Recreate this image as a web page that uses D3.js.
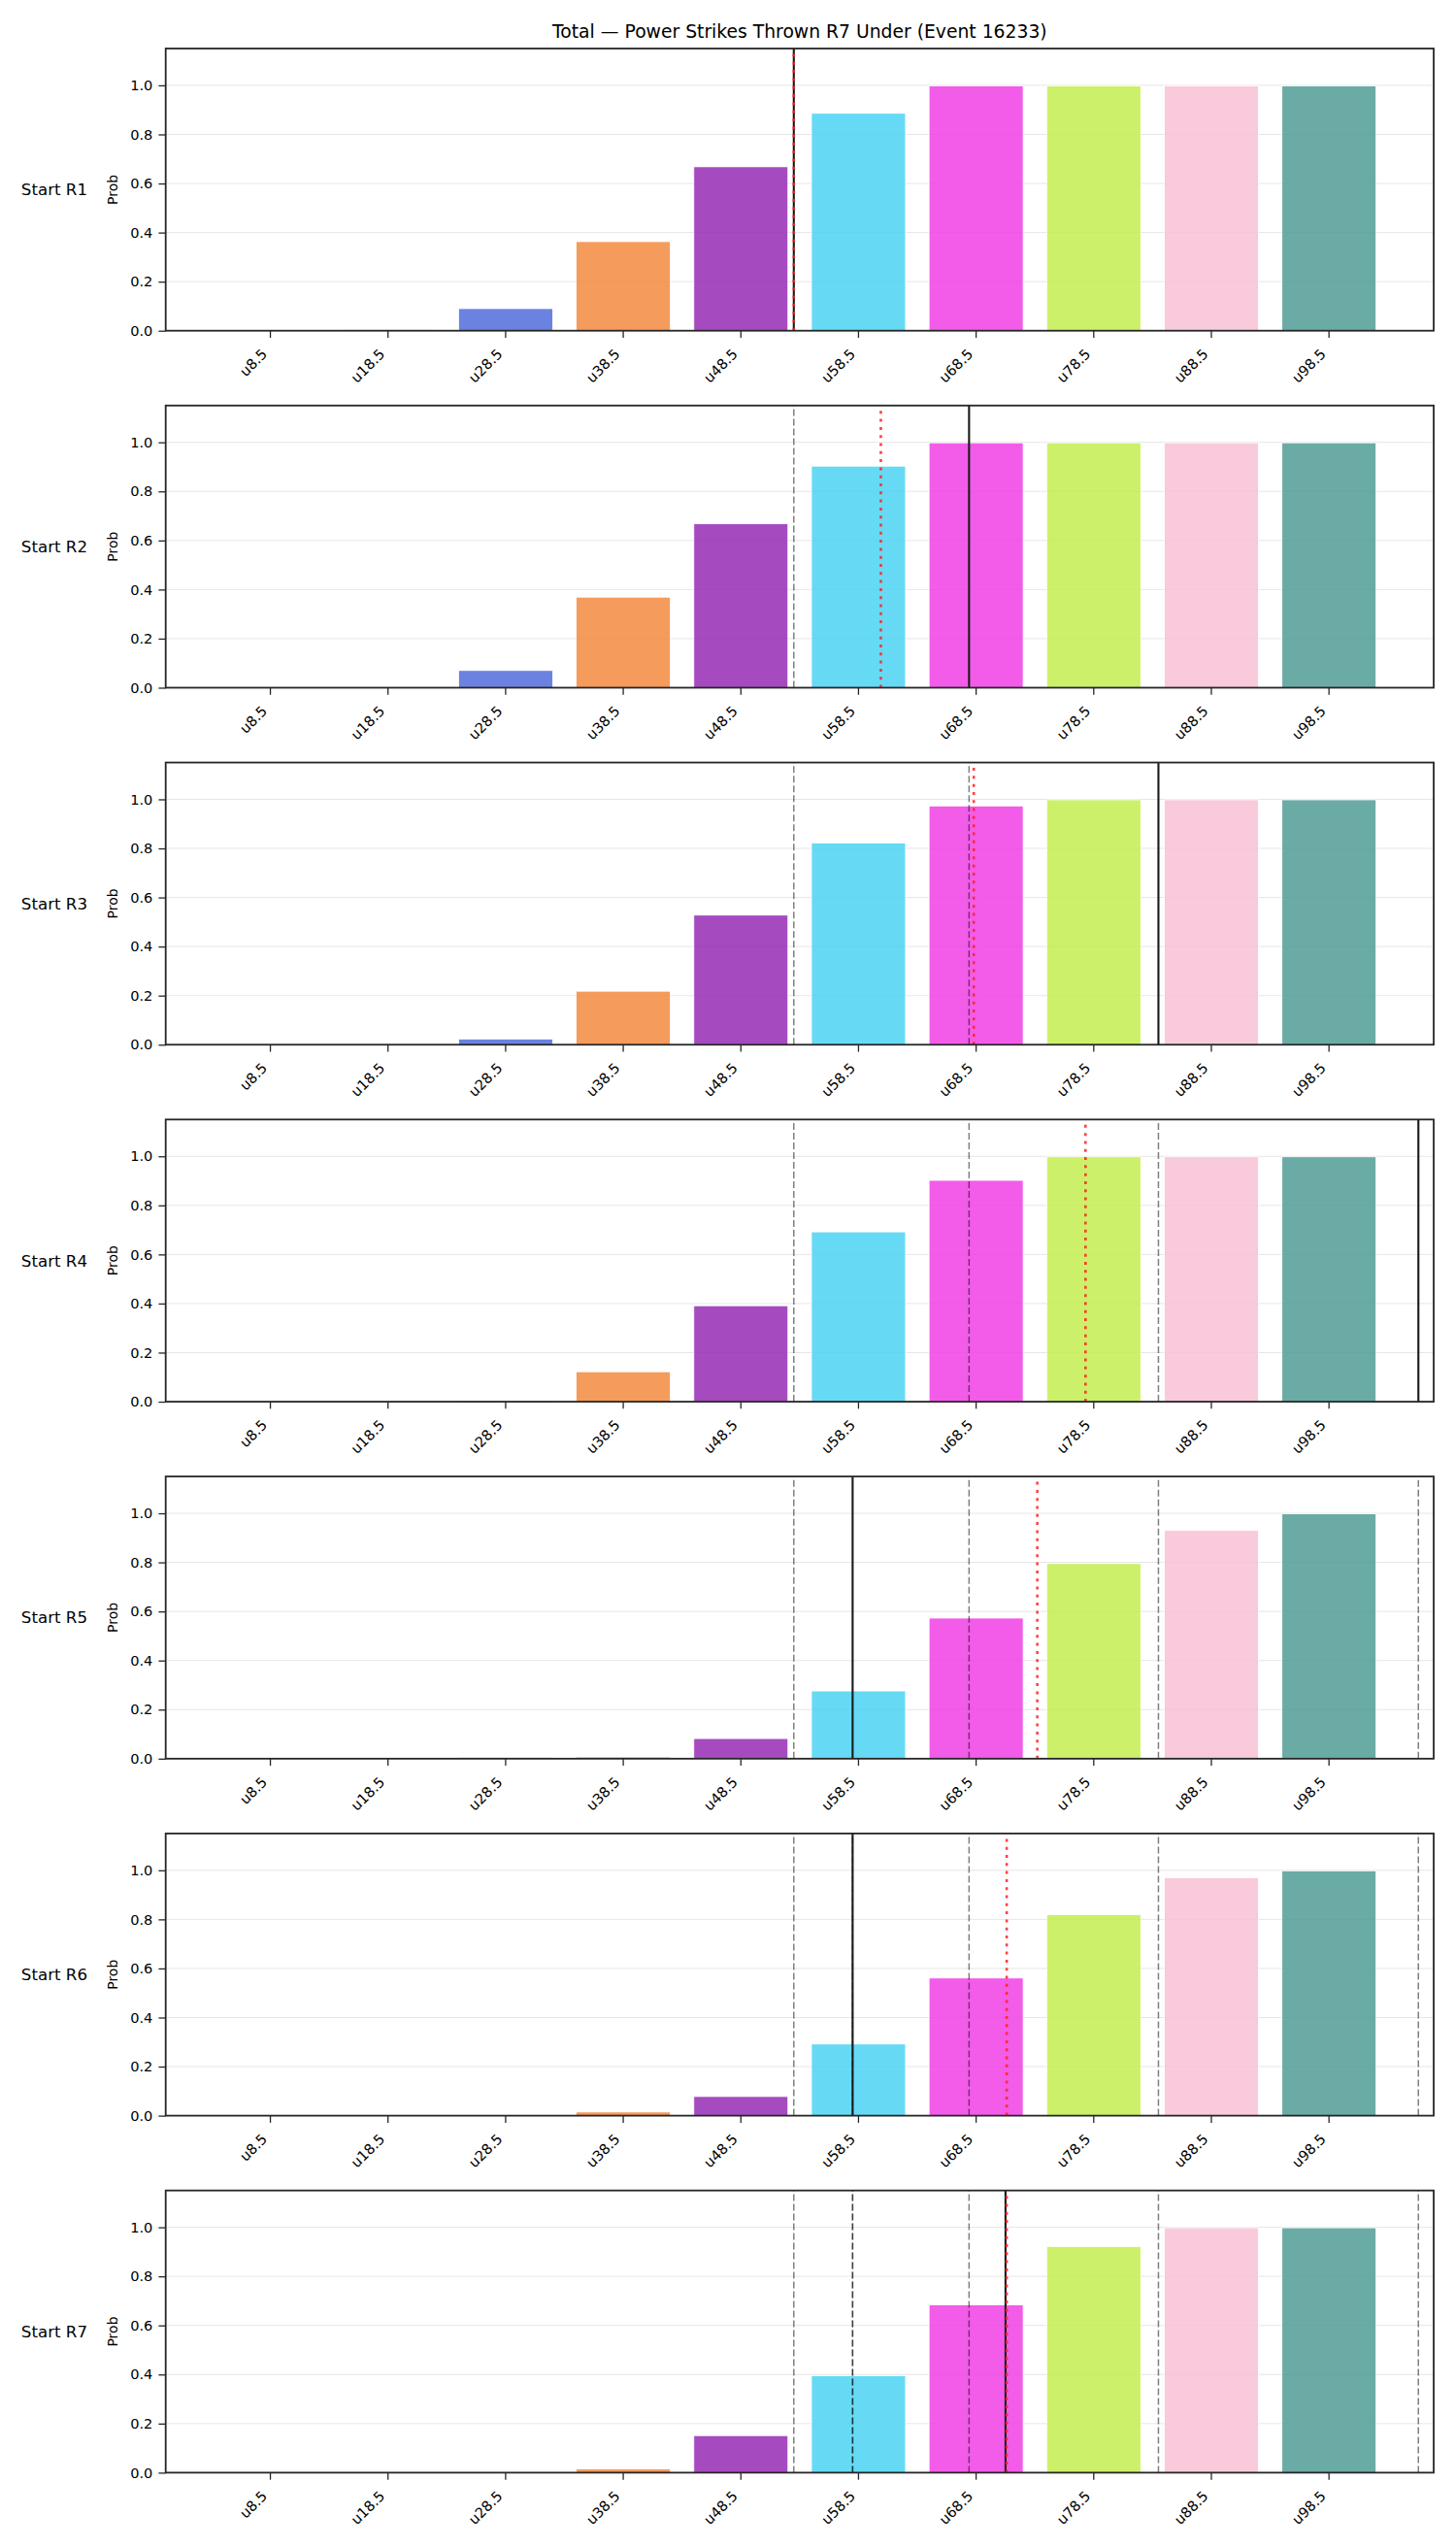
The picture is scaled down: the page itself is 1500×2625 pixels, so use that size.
<!DOCTYPE html>
<html><head><meta charset="utf-8">
<script src="https://cdn.jsdelivr.net/npm/d3@7"></script>
<style>body{margin:0;background:#fff}</style>
</head><body>
<svg id="chart" width="1500" height="2625"></svg>
<script>
// ---- data ----
const title = "Total — Power Strikes Thrown R7 Under (Event 16233)";
const categories = ["u8.5","u18.5","u28.5","u38.5","u48.5","u58.5","u68.5","u78.5","u88.5","u98.5"];
const categoryLines = [8.5,18.5,28.5,38.5,48.5,58.5,68.5,78.5,88.5,98.5];
const rounds = ["Start R1","Start R2","Start R3","Start R4","Start R5","Start R6","Start R7"];
const probR1 = [0, 0.003, 0.090, 0.363, 0.668, 0.886, 0.998, 0.998, 0.998, 0.998];
const probR2 = [0, 0.000, 0.070, 0.369, 0.668, 0.903, 0.998, 0.998, 0.998, 0.998];
const probR3 = [0, 0.000, 0.023, 0.218, 0.528, 0.822, 0.973, 0.998, 0.998, 0.998];
const probR4 = [0, 0.000, 0.001, 0.122, 0.391, 0.692, 0.902, 0.998, 0.998, 0.998];
const probR5 = [0, 0.000, 0.004, 0.007, 0.082, 0.276, 0.573, 0.795, 0.930, 0.998];
const probR6 = [0, 0.000, 0.000, 0.015, 0.078, 0.292, 0.561, 0.819, 0.970, 0.998];
const probR7 = [0, 0.000, 0.000, 0.015, 0.151, 0.395, 0.684, 0.922, 0.998, 0.998];
const solidLines = [53.0, 67.9, 84.0, 106.1, 58.0, 58.0, 71.0];   // current line per round
const redLines   = [53.0, 60.4, 68.3, 77.8, 73.7, 71.1, 71.1];    // red dotted per round
const barColors = ["#2a4d69","#1b4d2b","#516cdb","#f3893e","#952bb4","#4bd3f2","#f03fe4","#c4ed50","#f8c1d5","#519c95"];
const yTicks = [0, 0.2, 0.4, 0.6, 0.8, 1.0];
const allProbs = [probR1, probR2, probR3, probR4, probR5, probR6, probR7];

// ---- layout ----
const svg = d3.select("#chart");
const font = "DejaVu Sans";
const left = 170.7, right = 1477, top0 = 50, panelH = 290.7, panelStep = 367.78;
const dark = "#262626";

svg.append("text").attr("x", (left + right) / 2).attr("y", 38.5)
  .attr("text-anchor", "middle").attr("font-family", font).attr("font-size", 18.75)
  .attr("fill", "#000").text(title);

const x = d3.scaleBand().domain(categories).range([left, right])
  .paddingInner(0.2).paddingOuter(0.49);
const lx = d3.scaleLinear().domain([categoryLines[0], categoryLines[9]])
  .range([x(categories[0]) + x.bandwidth() / 2, x(categories[9]) + x.bandwidth() / 2]);

allProbs.forEach((probs, i) => {
  const top = top0 + i * panelStep, bottom = top + panelH;
  const y = d3.scaleLinear().domain([0, 1.15]).range([bottom, top]);
  const g = svg.append("g");

  // grid
  g.selectAll(".grid").data(yTicks).join("line")
    .attr("x1", left).attr("x2", right)
    .attr("y1", d => y(d)).attr("y2", d => y(d))
    .attr("stroke", "#000").attr("stroke-opacity", 0.1).attr("stroke-width", 1);

  // bars
  g.selectAll(".bar").data(probs).join("rect")
    .attr("x", (d, j) => x(categories[j]))
    .attr("width", x.bandwidth())
    .attr("y", d => y(d)).attr("height", d => y(0) - y(d))
    .attr("fill", (d, j) => barColors[j]).attr("fill-opacity", 0.85)
    .attr("stroke", "#fff").attr("stroke-width", 0.8);

  // previous rounds dashed
  g.selectAll(".prev").data(solidLines.slice(0, i)).join("line")
    .attr("x1", d => lx(d)).attr("x2", d => lx(d))
    .attr("y1", bottom).attr("y2", top)
    .attr("stroke", "#000").attr("stroke-opacity", 0.5)
    .attr("stroke-width", 1.5).attr("stroke-dasharray", "7,3");

  // current solid line
  g.append("line")
    .attr("x1", lx(solidLines[i])).attr("x2", lx(solidLines[i]))
    .attr("y1", bottom).attr("y2", top)
    .attr("stroke", "#1a1a1a").attr("stroke-width", 2.1);

  // red dotted
  g.append("line")
    .attr("x1", lx(redLines[i])).attr("x2", lx(redLines[i]))
    .attr("y1", bottom).attr("y2", top)
    .attr("stroke", "#ff2020").attr("stroke-opacity", 0.85)
    .attr("stroke-width", 2.6).attr("stroke-dasharray", "3,5.3");

  // spines
  g.append("rect").attr("x", left).attr("y", top)
    .attr("width", right - left).attr("height", panelH)
    .attr("fill", "none").attr("stroke", dark).attr("stroke-width", 1.8);

  // y axis
  const ya = g.append("g").attr("transform", `translate(${left},0)`)
    .call(d3.axisLeft(y).tickValues(yTicks).tickFormat(d3.format(".1f"))
      .tickSize(7.3).tickPadding(6));
  ya.select(".domain").remove();
  ya.selectAll(".tick line").attr("stroke", dark).attr("stroke-width", 1.3);
  ya.selectAll(".tick text").attr("font-family", font).attr("font-size", 14.58).attr("fill", "#000");

  // x axis
  const xa = g.append("g").attr("transform", `translate(0,${bottom})`)
    .call(d3.axisBottom(x).tickSize(7.3).tickPadding(0));
  xa.select(".domain").remove();
  xa.selectAll(".tick line").attr("stroke", dark).attr("stroke-width", 1.3);
  xa.selectAll(".tick text")
    .attr("font-family", font).attr("font-size", 14.58).attr("fill", "#000")
    .attr("text-anchor", "end").attr("dy", null).attr("y", null)
    .attr("transform", "translate(-2.4,25) rotate(-45)");

  // Prob label
  g.append("text").attr("transform", `translate(121,${(top + bottom) / 2}) rotate(-90)`)
    .attr("text-anchor", "middle").attr("font-family", font).attr("font-size", 14)
    .attr("fill", "#000").text("Prob");

  // row label
  g.append("text").attr("x", 90).attr("y", (top + bottom) / 2 + 6)
    .attr("text-anchor", "end").attr("font-family", font).attr("font-size", 16.67)
    .attr("fill", "#000").text(rounds[i]);
});
</script>
</body></html>
